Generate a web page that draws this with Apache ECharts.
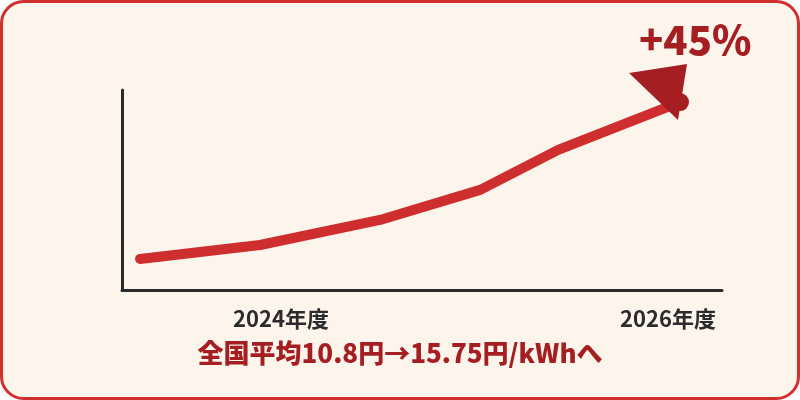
<!DOCTYPE html>
<html>
<head>
<meta charset="utf-8">
<script src="https://cdn.jsdelivr.net/npm/echarts@6/dist/echarts.min.js"></script>
<style>
  html, body { margin: 0; padding: 0; background: #ffffff; }
  #main { width: 800px; height: 400px; }
</style>
</head>
<body>
<div id="main"></div>
<script>
// 時間軸上の位置（0-100）と単価（円/kWh）
var xPos = [3, 23, 43, 59.7, 72.7, 93];
var prices = [10.8, 11.24, 12.03, 12.98, 14.24, 15.75];
// 軸ラベル
var labelPos = [26.5, 91];
var labelText = ['2024年度', '2026年度'];
var headline = '+45%';
var caption = '全国平均10.8円→15.75円/kWhへ';

var myChart = echarts.init(document.getElementById('main'));

var points = [];
for (var i = 0; i < xPos.length; i++) {
    points.push([xPos[i], prices[i]]);
}
var last = points[points.length - 1];

var option = {
    animation: false,
    backgroundColor: '#ffffff',
    graphic: [
        {
            type: 'rect',
            z: -10,
            shape: { x: 1.5, y: 1.5, width: 797, height: 397, r: 22 },
            style: { fill: '#fdf5ec', stroke: '#d0302f', lineWidth: 3 }
        },
        {
            type: 'text',
            left: 'center',
            top: 340,
            style: {
                text: caption,
                fill: '#a51f22',
                font: '900 26px "Noto Sans CJK JP", sans-serif'
            }
        },
        {
            type: 'text',
            left: 639,
            top: 20,
            style: {
                text: headline,
                fill: '#a51f22',
                font: '900 40px "Noto Sans CJK JP", sans-serif'
            }
        }
    ],
    grid: { left: 122, right: 78, top: 90, bottom: 110 },
    xAxis: {
        type: 'value',
        min: 0,
        max: 100,
        splitLine: { show: false },
        axisTick: { show: false },
        axisLine: { show: true, lineStyle: { color: '#2b2b2b', width: 3 } },
        axisLabel: {
            customValues: labelPos,
            margin: 18,
            color: '#2b2b2b',
            fontSize: 22,
            fontWeight: 'bold',
            fontFamily: '"Noto Sans CJK JP", sans-serif',
            formatter: function (v) {
                var idx = labelPos.indexOf(v);
                return idx >= 0 ? labelText[idx] : '';
            }
        }
    },
    yAxis: {
        type: 'value',
        min: 9.82,
        max: 16.13,
        splitLine: { show: false },
        axisTick: { show: false },
        axisLabel: { show: false },
        axisLine: { show: true, lineStyle: { color: '#2b2b2b', width: 3 } }
    },
    series: [
        {
            type: 'line',
            data: points,
            symbol: 'none',
            lineStyle: { color: '#cf2e2e', width: 10, cap: 'round', join: 'round' },
            markPoint: {
                silent: true,
                data: [
                    {
                        coord: last,
                        symbol: 'circle',
                        symbolSize: 18,
                        itemStyle: { color: '#a51f22' },
                        label: { show: false }
                    },
                    {
                        coord: last,
                        symbol: 'path://M0,9 L58,0 L49,56 Z',
                        symbolSize: [58, 56],
                        symbolOffset: [-22, -10],
                        itemStyle: { color: '#a51f22' },
                        label: { show: false }
                    }
                ]
            }
        }
    ]
};

myChart.setOption(option);
window.addEventListener('resize', function () {
    myChart.resize();
});
</script>
</body>
</html>
